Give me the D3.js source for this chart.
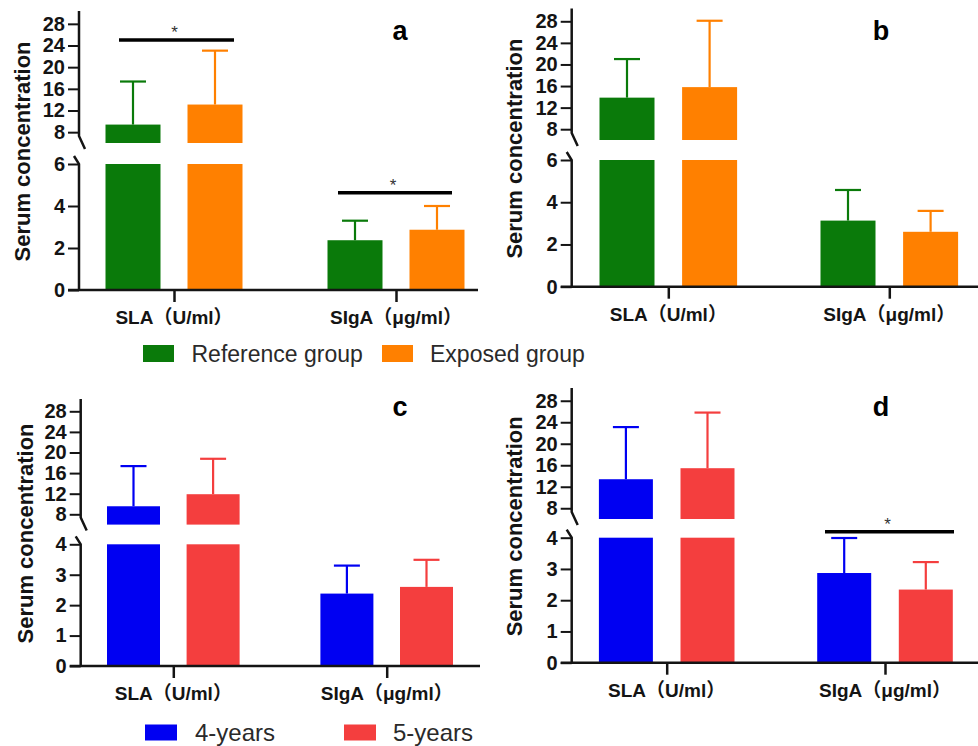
<!DOCTYPE html>
<html>
<head>
<meta charset="utf-8">
<script src="https://cdn.jsdelivr.net/npm/d3@7"></script>
<style>
  html, body { margin: 0; padding: 0; background: #fff; }
  svg { display: block; }
  text { font-family: "Liberation Sans", Arial, "Noto Sans CJK SC", sans-serif; }
</style>
</head>
<body>
<svg id="chart" width="978" height="746"></svg>
<script>
// ---------------- DATA ----------------
const groups = ["SLA（U/ml）", "SIgA（μg/ml）"];
const seriesAB = ["Reference group", "Exposed group"];
const seriesCD = ["4-years", "5-years"];
const colorsAB = ["#0a7a0a", "#ff8000"];
const colorsCD = ["#0000f2", "#f43e3e"];

// means  [group][series]  and  mean+SD  [group][series]
const meanA = [[9.4, 13.1], [2.37, 2.87]];
const errA  = [[17.35, 23.05], [3.3, 4.0]];
const meanB = [[13.85, 15.8], [3.13, 2.6]];
const errB  = [[21.0, 28.1], [4.58, 3.59]];
const meanC = [[9.56, 11.9], [2.38, 2.6]];
const errC  = [[17.36, 18.78], [3.3, 3.49]];
const meanD = [[13.4, 15.45], [2.87, 2.34]];
const errD  = [[23.1, 25.8], [3.99, 3.22]];

const upperTicks = [8, 12, 16, 20, 24, 28];
const lowerTicksAB = [0, 2, 4, 6];
const lowerTicksCD = [0, 1, 2, 3, 4];
const upperDomain = [6, 30];
const lowerDomainAB = [0, 6];
const lowerDomainCD = [0, 4];

// significance bars: group index and height (value)
const sigA = [{ g: 0, v: 25.0 }, { g: 1, v: 4.63 }];
const sigB = [];
const sigC = [];
const sigD = [{ g: 1, v: 4.19 }];

const yTitle = "Serum concentration";

// ---------------- LAYOUT ----------------
const panels = [
  { label: "a", mean: meanA, err: errA, sig: sigA, colors: colorsAB, series: seriesAB,
    lowDom: lowerDomainAB, lowTicks: lowerTicksAB,
    ax: 79, top: 13, base: 290, lowTop: 164, upBot: 143, gx: [174, 396], off: 41, bw: 55,
    xEnd: 478, titleX: 30, lab: [400, 30], sigExt: [[-55, 60], [-58, 56]] },
  { label: "b", mean: meanB, err: errB, sig: sigB, colors: colorsAB, series: seriesAB,
    lowDom: lowerDomainAB, lowTicks: lowerTicksAB,
    ax: 571.7, top: 10.5, base: 286.7, lowTop: 160, upBot: 140, gx: [668.3, 889.3], off: 41.3, bw: 55,
    xEnd: 978, titleX: 522, lab: [881, 30], sigExt: [] },
  { label: "c", mean: meanC, err: errC, sig: sigC, colors: colorsCD, series: seriesCD,
    lowDom: lowerDomainCD, lowTicks: lowerTicksCD,
    ax: 80.7, top: 401, base: 666, lowTop: 544.3, upBot: 524.6, gx: [173.3, 386.7], off: 39.8, bw: 53,
    xEnd: 480, titleX: 33, lab: [400, 406], sigExt: [] },
  { label: "d", mean: meanD, err: errD, sig: sigD, colors: colorsCD, series: seriesCD,
    lowDom: lowerDomainCD, lowTicks: lowerTicksCD,
    ax: 571.7, top: 390, base: 662.7, lowTop: 537.7, upBot: 519, gx: [666.7, 885], off: 40.8, bw: 54,
    xEnd: 978, titleX: 522, lab: [881, 406], sigExt: [[0, 0], [-60, 69]] }
];

const svg = d3.select("#chart");
const AX = "#141414";
const TXT = "#141414";

panels.forEach(p => {
  const g = svg.append("g");
  const yLow = d3.scaleLinear().domain(p.lowDom).range([p.base, p.lowTop]);
  const yUp = d3.scaleLinear().domain(upperDomain).range([p.upBot, p.top]);
  const x = d3.scalePoint().domain(groups).range(p.gx);
  const xs = d3.scalePoint().domain(p.series).range([-p.off, p.off]);
  const lowMax = p.lowDom[1];

  // bars
  groups.forEach((grp, gi) => {
    p.series.forEach((s, si) => {
      const v = p.mean[gi][si];
      const cx = x(grp) + xs(s);
      const col = p.colors[si];
      const lowV = Math.min(v, lowMax);
      g.append("rect")
        .attr("x", cx - p.bw / 2).attr("width", p.bw)
        .attr("y", yLow(lowV)).attr("height", yLow(0) - yLow(lowV))
        .attr("fill", col);
      let topY = yLow(v);
      if (v > lowMax) {
        g.append("rect")
          .attr("x", cx - p.bw / 2).attr("width", p.bw)
          .attr("y", yUp(v)).attr("height", yUp(upperDomain[0]) - yUp(v))
          .attr("fill", col);
        topY = yUp(v);
      }
      // error bar (upward)
      const e = p.err[gi][si];
      const ey = e > lowMax ? yUp(e) : yLow(e);
      g.append("line").attr("x1", cx).attr("x2", cx).attr("y1", topY).attr("y2", ey)
        .attr("stroke", col).attr("stroke-width", 2.2);
      g.append("line").attr("x1", cx - 13).attr("x2", cx + 13).attr("y1", ey).attr("y2", ey)
        .attr("stroke", col).attr("stroke-width", 2.2);
    });
  });

  // y axes (ticks + labels) via d3 axes
  const fmt = d3.format("d");
  const axUp = d3.axisLeft(yUp).tickValues(upperTicks).tickFormat(fmt).tickSize(11).tickPadding(3);
  const axLow = d3.axisLeft(yLow).tickValues(p.lowTicks).tickFormat(fmt).tickSize(11).tickPadding(3);
  [axUp, axLow].forEach(a => {
    const ag = g.append("g").attr("transform", `translate(${p.ax},0)`).call(a);
    ag.select(".domain").remove();
    ag.selectAll(".tick line").attr("stroke", AX).attr("stroke-width", 2);
    ag.selectAll(".tick text")
      .attr("fill", TXT).attr("font-size", 20).attr("font-weight", "bold")
      .style("font-family", '"Liberation Sans", Arial, sans-serif');
  });

  // axis line with break
  const brkU = p.upBot - 7;
  g.append("path")
    .attr("d", `M${p.ax},${p.top - 2}V${brkU}L${p.ax + 6},${p.upBot + 6}`)
    .attr("fill", "none").attr("stroke", AX).attr("stroke-width", 2.5);
  g.append("path")
    .attr("d", `M${p.ax - 5},${p.lowTop - 8}L${p.ax},${p.lowTop}V${p.base}`)
    .attr("fill", "none").attr("stroke", AX).attr("stroke-width", 2.5);

  // x axis
  const xa = d3.axisBottom(x).tickSize(12).tickFormat("").tickSizeOuter(0);
  const xg = g.append("g").attr("transform", `translate(0,${p.base})`).call(xa);
  xg.select(".domain").remove();
  xg.selectAll(".tick line").attr("stroke", AX).attr("stroke-width", 2.5);
  g.append("line").attr("x1", p.ax - 11).attr("x2", p.xEnd)
    .attr("y1", p.base).attr("y2", p.base).attr("stroke", AX).attr("stroke-width", 2.5);
  groups.forEach(grp => {
    g.append("text").attr("x", x(grp)).attr("y", p.base + 34)
      .attr("text-anchor", "middle").attr("font-weight", "bold")
      .attr("font-size", 19).attr("fill", TXT).text(grp);
  });

  // y title
  const midY = (p.top + p.base) / 2;
  g.append("text")
    .attr("transform", `translate(${p.titleX},${midY}) rotate(-90)`)
    .attr("text-anchor", "middle").attr("font-size", 22).attr("font-weight", "bold")
    .attr("fill", TXT).text(yTitle);

  // panel label
  g.append("text").attr("x", p.lab[0]).attr("y", p.lab[1]).attr("dy", "0.36em")
    .attr("text-anchor", "middle").attr("font-size", 27).attr("font-weight", "bold")
    .attr("fill", "#000").text(p.label);

  // significance
  p.sig.forEach(s => {
    const yy = s.v >= upperDomain[0] ? yUp(s.v) : yLow(s.v);
    const ext = p.sigExt[s.g];
    const cx = x(groups[s.g]);
    g.append("line").attr("x1", cx + ext[0]).attr("x2", cx + ext[1]).attr("y1", yy).attr("y2", yy)
      .attr("stroke", "#000").attr("stroke-width", 3.5);
    g.append("text").attr("x", cx + (ext[0] + ext[1]) / 2 - 2).attr("y", yy - 2)
      .attr("text-anchor", "middle").attr("font-size", 17).attr("fill", "#333").text("*");
  });
});

// ---------------- LEGENDS ----------------
function legend(series, colors, sw, tx, yTop, swW, swH, fs) {
  series.forEach((s, i) => {
    svg.append("rect").attr("x", sw[i]).attr("y", yTop).attr("width", swW).attr("height", swH)
      .attr("fill", colors[i]);
    svg.append("text").attr("x", tx[i]).attr("y", yTop + swH / 2).attr("dy", "0.35em")
      .attr("font-size", fs).attr("fill", "#2a2a2a").text(s);
  });
}
legend(seriesAB, colorsAB, [143, 382], [191.5, 430], 345, 31, 17, 23);
legend(seriesCD, colorsCD, [145, 344], [195, 393], 724.5, 32, 16, 24);
</script>
</body>
</html>
